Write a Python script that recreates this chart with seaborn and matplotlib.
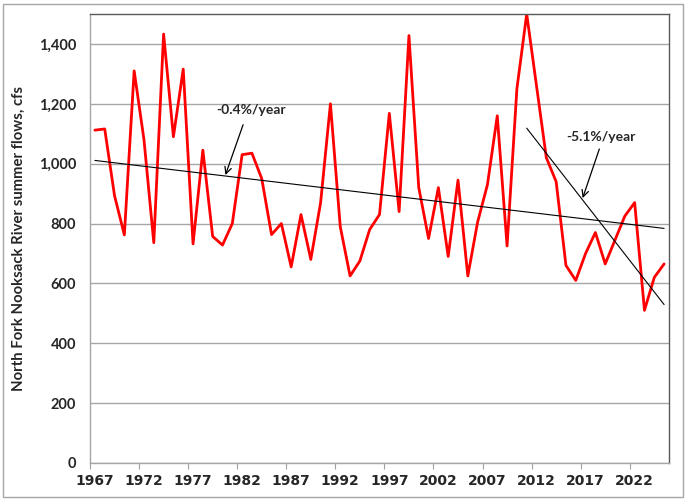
import numpy as np
import pandas as pd
import matplotlib
matplotlib.use("Agg")
import matplotlib.pyplot as plt
import seaborn as sns
from matplotlib.patches import Rectangle

years = list(range(1967, 2026))
flows = [1112, 1116, 893, 762, 1310, 1080, 736, 1433, 1090, 1316,
         732, 1045, 757, 728, 800, 1030, 1035, 950, 763, 800,
         655, 830, 680, 870, 1200, 790, 625, 675, 780, 830,
         1168, 840, 1428, 920, 750, 920, 690, 945, 625, 805,
         930, 1160, 725, 1250, 1500, 1260, 1020, 940, 660, 610,
         700, 770, 665, 745, 825, 870, 510, 620, 665]
trend_labels = ["-0.4%/year", "-5.1%/year"]
recent_start = 2011
ytick_vals = list(range(0, 1401, 200))
xtick_years = list(range(1967, 2026, 5))

df = pd.DataFrame({"year": years, "flow": flows})

sns.set_theme(style="white")
plt.rcParams["font.family"] = ["Lato", "DejaVu Sans"]

fig = plt.figure(figsize=(6.88, 5.01), dpi=100)
ax = fig.add_axes([90/688, 38/501, (669-90)/688, (463-14)/501])

sns.lineplot(data=df, x="year", y="flow", color="#ff0000", linewidth=2.0, ax=ax)

# trendlines (least squares)
c1 = np.polyfit(df["year"], df["flow"], 1)
xs1 = np.array([years[0], years[-1]])
ax.plot(xs1, np.polyval(c1, xs1), color="black", linewidth=0.8)
sub = df[df["year"] >= recent_start]
c2 = np.polyfit(sub["year"], sub["flow"], 1)
xs2 = np.array([recent_start, years[-1]])
ax.plot(xs2, np.polyval(c2, xs2), color="black", linewidth=0.8)

ax.set_xlim(years[0] - 0.5, years[-1] + 0.5)
ax.set_ylim(0, 1500)
ax.set_yticks(ytick_vals)
ax.set_yticklabels([f"{v:,}" for v in ytick_vals], fontweight="bold", fontsize=10.5)
ax.set_xticks(xtick_years)
ax.set_xticklabels([str(y) for y in xtick_years], fontweight="bold", fontsize=10,
                   family=["Liberation Sans Narrow", "DejaVu Sans"])
ax.set_xticks([y - 0.5 for y in xtick_years], minor=True)
ax.tick_params(axis="x", which="major", length=0, pad=8)
ax.tick_params(axis="x", which="minor", length=4, width=0.8, color="#a0a0a0", direction="out", bottom=True)
ax.tick_params(axis="y", length=0, pad=10)
ax.set_xlabel("")
ax.set_ylabel("North Fork Nooksack River summer flows, cfs", fontweight="bold", fontsize=10.7, labelpad=9)

ax.grid(axis="y", color="#a6a6a6", linewidth=1.0)
ax.set_axisbelow(True)
for s in ["top", "right"]:
    ax.spines[s].set_color("#595959")
    ax.spines[s].set_linewidth(1.0)
for s in ["left", "bottom"]:
    ax.spines[s].set_color("#a6a6a6")
    ax.spines[s].set_linewidth(1.0)

ax.text(1982.9, 1180, trend_labels[0], fontsize=10, fontweight="bold", ha="center", va="center")
ax.annotate("", xy=(1980.3, 962), xytext=(1982.1, 1130),
            arrowprops=dict(arrowstyle="->", color="black", lw=0.9, shrinkA=0, shrinkB=0))
ax.text(2018.6, 1089, trend_labels[1], fontsize=10, fontweight="bold", ha="center", va="center")
ax.annotate("", xy=(2016.7, 885), xytext=(2018.4, 1049),
            arrowprops=dict(arrowstyle="->", color="black", lw=0.9, shrinkA=0, shrinkB=0))

fig.patches.append(Rectangle((3/688, 4/501), 680/688, 493/501, transform=fig.transFigure,
                             fill=False, edgecolor="#a6a6a6", linewidth=1.0))

fig.savefig("out.png", dpi=100)
